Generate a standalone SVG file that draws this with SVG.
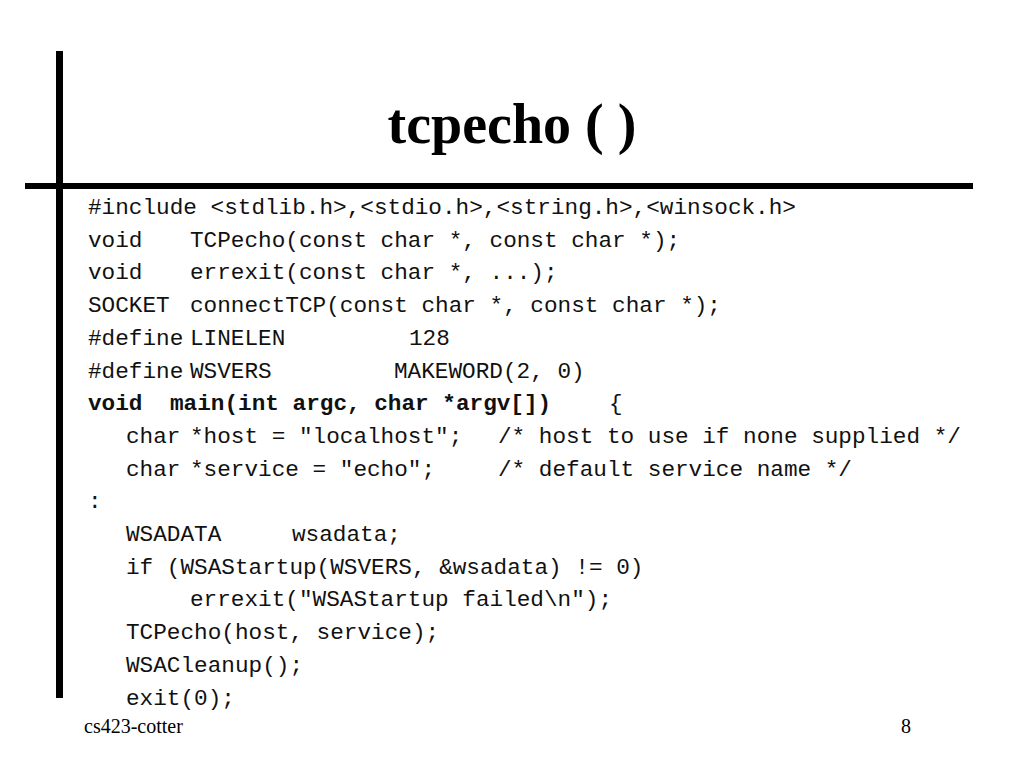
<svg xmlns="http://www.w3.org/2000/svg" width="1024" height="768" viewBox="0 0 1024 768">
<style>
.code{font-family:"Liberation Mono","Courier New",monospace;font-size:22.7px;fill:#111;white-space:pre}
.b{font-weight:bold}
.title{font-family:"Liberation Serif","Times New Roman",serif;font-size:56px;font-weight:bold;fill:#000}
.foot{font-family:"Liberation Serif","Times New Roman",serif;font-size:20px;fill:#000}
</style>
<rect width="1024" height="768" fill="#fff"/>
<g id="frame">
<rect x="56" y="51" width="7" height="647" fill="#000"/>
<rect x="25" y="183" width="948" height="6" fill="#000"/>
</g>
<text class="title" x="512" y="143" text-anchor="middle">tcpecho ( )</text>
<g id="code" class="code">
<text x="88" y="214">#include &lt;stdlib.h&gt;,&lt;stdio.h&gt;,&lt;string.h&gt;,&lt;winsock.h&gt;</text>
<text x="88" y="246.7">void</text><text x="190" y="246.7">TCPecho(const char *, const char *);</text>
<text x="88" y="279.4">void</text><text x="190" y="279.4">errexit(const char *, ...);</text>
<text x="88" y="312">SOCKET</text><text x="190" y="312">connectTCP(const char *, const char *);</text>
<text x="88" y="344.8">#define</text><text x="190" y="344.8">LINELEN</text><text x="409" y="344.8">128</text>
<text x="88" y="377.5">#define</text><text x="190" y="377.5">WSVERS</text><text x="394" y="377.5">MAKEWORD(2, 0)</text>
<text x="88" y="410.2" class="b">void</text><text x="170" y="410.2" class="b">main(int argc, char *argv[])</text><text x="609" y="410.2">{</text>
<text x="126" y="442.9">char</text><text x="190" y="442.9">*host = "localhost";</text><text x="498" y="442.9">/* host to use if none supplied */</text>
<text x="126" y="475.6">char</text><text x="190" y="475.6">*service = "echo";</text><text x="498" y="475.6">/* default service name */</text>
<text x="88" y="508.3">:</text>
<text x="126" y="541">WSADATA</text><text x="292" y="541">wsadata;</text>
<text x="126" y="573.7">if (WSAStartup(WSVERS, &amp;wsadata) != 0)</text>
<text x="190" y="606.4">errexit("WSAStartup failed\n");</text>
<text x="126" y="639.1">TCPecho(host, service);</text>
<text x="126" y="671.8">WSACleanup();</text>
<text x="126" y="704.5">exit(0);</text>
</g>
<g id="footer">
<text class="foot" x="84" y="733">cs423-cotter</text>
<text class="foot" x="911" y="733" text-anchor="end">8</text>
</g>
</svg>
